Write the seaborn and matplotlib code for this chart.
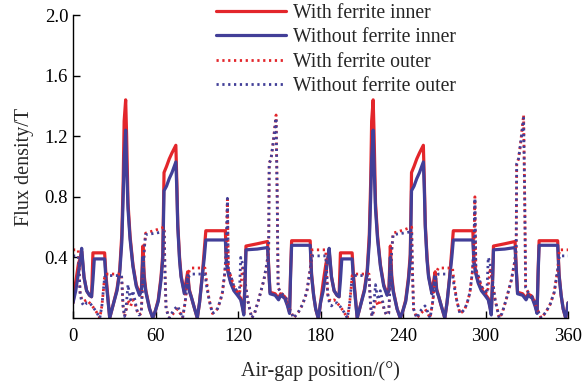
import numpy as np
import pandas as pd
import matplotlib
matplotlib.use("Agg")
import matplotlib.pyplot as plt
import seaborn as sns

# ---- data: one 180-degree period (the chart repeats it) ----
inner_deg = [0, 2, 4, 5.5, 6.3, 8, 9.9, 12, 13.5, 14.5,
             15.5, 23, 24, 26.7, 29, 32, 34, 35.5, 36.5, 37.2,
             38.3, 39, 40, 41.5, 43.6, 46, 48.4, 49.8, 50.8, 51.8,
             53, 55.7, 58, 60, 62, 64, 65.3, 66.2, 68, 70,
             72, 74.8, 75.5, 76.2, 77.5, 78.6, 81, 82.2, 83.4, 84.5,
             86, 88, 90.4, 92, 94, 95.5, 96.6, 110.8, 111.6, 113,
             114.7, 117, 119.6, 122, 123.2, 124.2, 125.2, 125.8, 134, 141.5,
             142.5, 143.3, 147, 149.5, 151, 154, 156, 157.5, 158.3, 159,
             172.5, 173.5, 175, 176.5, 178.3, 179.3]
blue_inner = [0.10, 0.18, 0.30, 0.40, 0.46, 0.27, 0.18, 0.15, 0.14, 0.25,
              0.39, 0.39, 0.25, 0.00, 0.08, 0.18, 0.30, 0.50, 0.80, 1.05,
              1.24, 1.00, 0.72, 0.52, 0.34, 0.21, 0.15, 0.18, 0.40, 0.25,
              0.17, 0.06, 0.00, 0.05, 0.11, 0.25, 0.39, 0.84, 0.87, 0.92,
              0.96, 1.03, 0.85, 0.60, 0.38, 0.27, 0.16, 0.21, 0.28, 0.18,
              0.14, 0.075, 0.00, 0.10, 0.27, 0.40, 0.515, 0.515, 0.36, 0.29,
              0.23, 0.18, 0.15, 0.12, 0.07, 0.02, 0.25, 0.45, 0.455, 0.465,
              0.30, 0.16, 0.15, 0.12, 0.15, 0.13, 0.08, 0.03, 0.30, 0.48,
              0.48, 0.28, 0.15, 0.06, 0.00, 0.05]
red_inner = [0.10, 0.24, 0.36, 0.40, 0.44, 0.27, 0.18, 0.15, 0.14, 0.43,
             0.43, 0.43, 0.28, 0.00, 0.08, 0.19, 0.32, 0.55, 0.90, 1.30,
             1.44, 1.20, 0.76, 0.54, 0.35, 0.22, 0.16, 0.20, 0.475, 0.28,
             0.18, 0.06, 0.00, 0.05, 0.12, 0.27, 0.42, 0.96, 1.00, 1.05,
             1.09, 1.14, 0.90, 0.62, 0.40, 0.28, 0.17, 0.24, 0.305, 0.19,
             0.14, 0.075, 0.00, 0.10, 0.28, 0.45, 0.576, 0.576, 0.38, 0.30,
             0.24, 0.19, 0.16, 0.13, 0.08, 0.03, 0.28, 0.475, 0.49, 0.505,
             0.30, 0.17, 0.16, 0.13, 0.16, 0.14, 0.09, 0.04, 0.32, 0.51,
             0.51, 0.29, 0.15, 0.06, 0.00, 0.05]

outer_deg = [0, 3.8, 4.5, 5.2, 6.5, 8, 10, 12, 14, 17,
             19.5, 21, 22.3, 23, 25, 35.3, 36.4, 37.5, 38.5, 40,
             41, 42, 43.5, 45, 46.5, 48, 49.6, 50.8, 51.8, 52.8,
             60, 66.3, 66.9, 67.7, 70, 73, 76, 78, 79.7, 81.5,
             83.4, 84.5, 85.8, 96, 97, 99, 101.4, 103, 105, 107,
             108.7, 110.4, 111.5, 112.3, 113, 115, 117, 119, 121, 122,
             123.3, 125, 127, 130, 132, 135, 138.8, 141, 142.3, 142.7,
             144, 145.5, 146.5, 147.7, 148.5, 149.2, 151, 153, 155, 157,
             159, 160.5, 164, 167, 170, 172.5, 173.7]
red_outer = [0.45, 0.45, 0.30, 0.16, 0.12, 0.11, 0.12, 0.10, 0.08, 0.04,
             0.00, 0.08, 0.20, 0.28, 0.29, 0.29, 0.08, 0.01, 0.04, 0.12,
             0.10, 0.08, 0.12, 0.10, 0.05, 0.02, 0.03, 0.26, 0.45, 0.56,
             0.58, 0.60, 0.30, 0.06, 0.00, 0.03, 0.06, 0.03, 0.00, 0.10,
             0.26, 0.31, 0.33, 0.33, 0.25, 0.12, 0.03, 0.04, 0.06, 0.11,
             0.17, 0.30, 0.45, 0.80, 0.32, 0.27, 0.21, 0.18, 0.16, 0.20,
             0.33, 0.25, 0.12, 0.00, 0.03, 0.12, 0.25, 0.36, 0.45, 1.02,
             1.05, 1.15, 1.24, 1.34, 0.80, 0.20, 0.17, 0.15, 0.13, 0.07,
             0.03, 0.00, 0.04, 0.09, 0.17, 0.32, 0.45]
blue_outer = [0.41, 0.41, 0.30, 0.16, 0.10, 0.08, 0.10, 0.10, 0.08, 0.04,
              0.00, 0.08, 0.20, 0.27, 0.28, 0.28, 0.08, 0.01, 0.06, 0.22,
              0.16, 0.12, 0.18, 0.12, 0.05, 0.02, 0.03, 0.26, 0.45, 0.55,
              0.56, 0.57, 0.30, 0.06, 0.00, 0.05, 0.08, 0.04, 0.00, 0.10,
              0.24, 0.28, 0.29, 0.29, 0.22, 0.12, 0.03, 0.04, 0.06, 0.11,
              0.17, 0.30, 0.45, 0.79, 0.32, 0.27, 0.21, 0.18, 0.16, 0.40,
              0.36, 0.25, 0.12, 0.00, 0.03, 0.12, 0.25, 0.36, 0.45, 1.02,
              1.05, 1.15, 1.23, 1.32, 0.80, 0.20, 0.17, 0.15, 0.13, 0.07,
              0.03, 0.00, 0.04, 0.09, 0.17, 0.32, 0.41]

period = 180
x_ticks = [0, 60, 120, 180, 240, 300, 360]
y_ticks = [0.4, 0.8, 1.2, 1.6, 2.0]
labels = ["With ferrite inner", "Without ferrite inner", "With ferrite outer", "Without ferrite outer"]

RED = "#E3262B"
BLUE = "#423F98"


def two_periods(deg, vals):
    d = np.concatenate([np.array(deg), np.array(deg) + period, [2 * period]])
    v = np.concatenate([np.array(vals), np.array(vals), [vals[0]]])
    return d, v


frames = []
for name, deg, vals in [(labels[0], inner_deg, red_inner), (labels[1], inner_deg, blue_inner),
                        (labels[2], outer_deg, red_outer), (labels[3], outer_deg, blue_outer)]:
    d, v = two_periods(deg, vals)
    frames.append(pd.DataFrame({"deg": d, "B": v, "series": name}))
df = pd.concat(frames, ignore_index=True)

sns.set_style("ticks")
plt.rcParams["font.family"] = ["Liberation Serif", "DejaVu Serif"]

fig = plt.figure(figsize=(5.84, 3.87), dpi=100)
ax = fig.add_axes([73 / 584, 69 / 387, 495 / 584, 303 / 387])

styles = {labels[0]: (RED, "-", 2.3), labels[1]: (BLUE, "-", 2.3),
          labels[2]: (RED, (0, (0.8, 1.3)), 2.0), labels[3]: (BLUE, (0, (0.8, 1.3)), 2.0)}
for name in labels:
    c, ls, lw = styles[name]
    sub = df[df["series"] == name]
    sns.lineplot(data=sub, x="deg", y="B", ax=ax, color=c, linestyle=ls, linewidth=lw,
                 label=name, sort=False, estimator=None)

ax.set_xlim(0, 360)
ax.set_ylim(0, 2.0)
ax.set_xticks(x_ticks)
ax.set_yticks(y_ticks)
ax.set_yticklabels([f"{t:.1f}" for t in y_ticks])
ax.tick_params(direction="in", length=5, width=1, labelsize=13.5, colors="black")
ax.tick_params(axis="x", pad=7)
for s in ["top", "right"]:
    ax.spines[s].set_visible(False)
for s in ["left", "bottom"]:
    ax.spines[s].set_color("black")
    ax.spines[s].set_linewidth(1)

ax.set_xlabel("Air-gap position/(°)", fontsize=14.5, labelpad=12)
ax.set_ylabel("Flux density/T", fontsize=14.5, labelpad=8)

leg = ax.legend(loc="upper left", bbox_to_anchor=(216 / 584, 1 - 4 / 387),
                bbox_transform=fig.transFigure, frameon=False, fontsize=14.2,
                handlelength=3.55, handletextpad=0.35, labelspacing=0.27, borderpad=0,
                borderaxespad=0)

fig.savefig("out.png", dpi=100)
